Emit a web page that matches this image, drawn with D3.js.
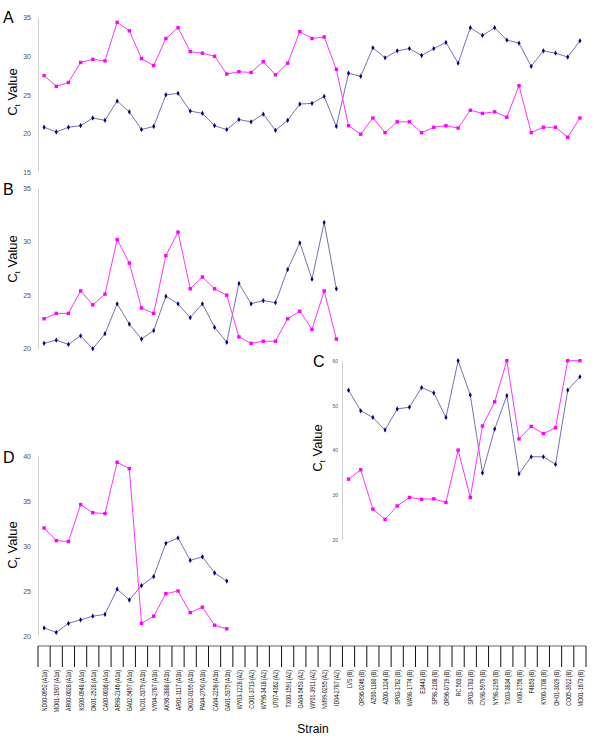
<!DOCTYPE html>
<html>
<head>
<meta charset="utf-8">
<script src="https://cdn.jsdelivr.net/npm/d3@7"></script>
<style>
body { margin: 0; background: #fff; }
svg { font-family: Arial, "Liberation Sans", sans-serif; }
</style>
</head>
<body>
<svg id="chart" width="600" height="742"></svg>
<script>
// strains, in the order of the shared x axis
var strains = [
  'ND00-0952 (A1a)', 'MO01-1907 (A1a)', 'AR00-0028 (A1a)', 'KS00-0948 (A1a)', 'OK01-2528 (A1a)',
  'CA00-0036 (A1a)', 'AR98-2146 (A1a)', 'GA02-5497 (A1a)', 'NC01-5379 (A1b)', 'NY04-2787 (A1b)',
  'AK96-2888 (A1b)', 'AR01-1117 (A1b)', 'OK02-0195 (A1b)', 'PA04-2790 (A1b)', 'CA04-2258 (A1b)',
  'GA01-5375 (A1b)', 'WY03-1228 (A2)', 'CO01-3713 (A2)', 'WY96-3418 (A2)', 'UT07-4362 (A2)',
  'TX00-1591 (A2)', 'GA04-5453 (A2)', 'WY01-3911 (A2)', 'NM99-0295 (A2)', 'ID04-2787 (A2)',
  'LVS (B)', 'OR96-0246 (B)', 'AZ00-1180 (B)', 'AZ00-1324 (B)', 'SP03-1782 (B)',
  'WA98-1774 (B)', 'E3443 (B)', 'SP98-2108 (B)', 'OR96-0719 (B)', 'RC 503 (B)',
  'SP03-1783 (B)', 'CN98-5979 (B)', 'NY98-2295 (B)', 'TX03-3834 (B)', 'IN00-2756 (B)',
  'F4853 (B)', 'KY00-1708 (B)', 'OH01-3029 (B)', 'CO05-3922 (B)', 'MO01-1673 (B)'
];

// panel A - all strains
var aNavy = [20.8, 20.2, 20.8, 21.0, 22.0, 21.7, 24.2, 22.8, 20.5, 20.9,
             25.0, 25.2, 22.9, 22.6, 21.0, 20.5, 21.8, 21.5, 22.5, 20.4,
             21.7, 23.8, 23.9, 24.8, 20.9, 27.8, 27.4, 31.1, 29.8, 30.7,
             31.0, 30.1, 31.0, 31.8, 29.1, 33.7, 32.7, 33.7, 32.1, 31.7,
             28.7, 30.7, 30.4, 29.9, 32.0];
var aPink = [27.5, 26.1, 26.6, 29.2, 29.6, 29.4, 34.4, 33.3, 29.7, 28.8,
             32.3, 33.7, 30.6, 30.4, 30.0, 27.7, 28.0, 27.9, 29.3, 27.6,
             29.1, 33.2, 32.3, 32.5, 28.3, 21.0, 19.9, 22.0, 20.1, 21.5,
             21.5, 20.1, 20.8, 21.0, 20.7, 23.0, 22.6, 22.8, 22.1, 26.2,
             20.1, 20.8, 20.8, 19.5, 22.0];

// panel B - A1a, A1b and A2 strains
var bNavy = [20.5, 20.8, 20.4, 21.2, 20.0, 21.4, 24.2, 22.3, 20.9, 21.7,
             24.9, 24.2, 22.9, 24.2, 22.0, 20.6, 26.1, 24.2, 24.5, 24.3,
             27.4, 29.9, 26.5, 31.8, 25.6];
var bPink = [22.8, 23.3, 23.3, 25.4, 24.1, 25.1, 30.2, 28.0, 23.8, 23.3,
             28.7, 30.9, 25.6, 26.7, 25.6, 25.0, 21.1, 20.5, 20.7, 20.7,
             22.8, 23.5, 21.8, 25.4, 20.9];

// panel C - B strains
var cNavy = [53.4, 48.8, 47.3, 44.5, 49.2, 49.6, 54.0, 52.8, 47.3, 60.0,
             52.3, 34.9, 44.7, 52.2, 34.7, 38.5, 38.5, 36.8, 53.4, 56.4];
var cPink = [33.5, 35.6, 26.8, 24.5, 27.5, 29.4, 29.0, 29.1, 28.3, 40.0,
             29.4, 45.4, 50.8, 60.0, 42.5, 45.3, 43.7, 45.0, 60.0, 60.0];

// panel D - A1a and A1b strains
var dNavy = [20.9, 20.4, 21.4, 21.8, 22.2, 22.4, 25.2, 24.0, 25.6, 26.6,
             30.3, 30.9, 28.4, 28.8, 27.0, 26.1];
var dPink = [32.0, 30.6, 30.5, 34.6, 33.7, 33.6, 39.3, 38.6, 21.4, 22.2,
             24.7, 25.0, 22.6, 23.2, 21.2, 20.8];

var svg = d3.select('#chart');

var x = d3.scaleBand().domain(strains).range([38, 586]);
var cx = function(name) { return x(name) + x.bandwidth() / 2 };

var panels = [
  {name: 'A', navy: aNavy, pink: aPink, first: 0, domain: [15, 35], ticks: [15, 20, 25, 30, 35],
   top: 17.7, bottom: 172, axisX: 38, letterX: 3, letterY: 23, titleX: 16.5, titleY: 92, tickFont: 7},
  {name: 'B', navy: bNavy, pink: bPink, first: 0, domain: [20, 35], ticks: [20, 25, 30, 35],
   top: 188.2, bottom: 348.7, axisX: 38, letterX: 3, letterY: 195, titleX: 16.5, titleY: 259, tickFont: 7},
  {name: 'C', navy: cNavy, pink: cPink, first: 25, domain: [20, 60], ticks: [20, 30, 40, 50, 60],
   top: 360.7, bottom: 539.5, axisX: 342, letterX: 313, letterY: 367, titleX: 322, titleY: 448, tickFont: 5},
  {name: 'D', navy: dNavy, pink: dPink, first: 0, domain: [20, 40], ticks: [20, 25, 30, 35, 40],
   top: 456, bottom: 636, axisX: 38, letterX: 3, letterY: 463, titleX: 16.5, titleY: 545, tickFont: 7}
];

panels.forEach(drawPanel);
drawStrainAxis();

function drawPanel(p) {
  var y = d3.scaleLinear().domain(p.domain).range([p.bottom, p.top]);
  var g = svg.append('g').attr('class', 'panel-' + p.name);

  // y axis
  var axis = g.append('g')
    .attr('transform', 'translate(' + p.axisX + ',0)')
    .call(d3.axisLeft(y).tickValues(p.ticks).tickSize(0).tickSizeOuter(0).tickPadding(p.tickFont > 6 ? 7 : 4));
  axis.select('.domain').attr('stroke', '#cfcfcf');
  axis.selectAll('text')
    .attr('fill', '#555')
    .style('font-size', p.tickFont + 'px');

  // panel letter
  g.append('text')
    .attr('x', p.letterX)
    .attr('y', p.letterY)
    .style('font-size', '16px')
    .text(p.name);

  // Ct Value title
  var title = g.append('text')
    .attr('transform', 'translate(' + p.titleX + ',' + p.titleY + ') rotate(-90)')
    .attr('text-anchor', 'middle')
    .style('font-size', '13px');
  title.append('tspan').text('C');
  title.append('tspan').attr('dy', 3).style('font-size', '8px').text('t');
  title.append('tspan').attr('dy', -3).text(' Value');

  var names = strains.slice(p.first, p.first + p.navy.length);
  var line = d3.line()
    .x(function(d, i) { return cx(names[i]) })
    .y(function(d) { return y(d) });

  // navy series
  g.append('path')
    .datum(p.navy)
    .attr('d', line)
    .attr('fill', 'none')
    .attr('stroke', '#3a3a96')
    .attr('stroke-opacity', 0.8)
    .attr('stroke-width', 0.9);
  g.selectAll('.navy-pt')
    .data(p.navy)
    .enter().append('path')
    .attr('class', 'navy-pt')
    .attr('transform', function(d, i) { return 'translate(' + cx(names[i]) + ',' + y(d) + ')' })
    .attr('d', d3.symbol(d3.symbolDiamond).size(8))
    .attr('fill', '#000080');

  // magenta series
  g.append('path')
    .datum(p.pink)
    .attr('d', line)
    .attr('fill', 'none')
    .attr('stroke', '#ff33ff')
    .attr('stroke-width', 1);
  g.selectAll('.pink-pt')
    .data(p.pink)
    .enter().append('rect')
    .attr('class', 'pink-pt')
    .attr('x', function(d, i) { return cx(names[i]) - 1.7 })
    .attr('y', function(d) { return y(d) - 1.7 })
    .attr('width', 3.4)
    .attr('height', 3.4)
    .attr('fill', '#ff00ff');
}

function drawStrainAxis() {
  var g = svg.append('g').attr('class', 'strain-axis');
  var axisY = 646;

  g.append('line')
    .attr('x1', x.range()[0]).attr('x2', x.range()[1])
    .attr('y1', axisY).attr('y2', axisY)
    .attr('stroke', '#666');

  // separators between strains
  var bounds = strains.map(function(s) { return x(s) }).concat([x.range()[1]]);
  g.selectAll('.sep')
    .data(bounds)
    .enter().append('line')
    .attr('class', 'sep')
    .attr('x1', function(d) { return d }).attr('x2', function(d) { return d })
    .attr('y1', axisY).attr('y2', axisY + 21)
    .attr('stroke', '#111');

  g.selectAll('.strain')
    .data(strains)
    .enter().append('text')
    .attr('class', 'strain')
    .attr('transform', function(d) {
      return 'translate(' + (cx(d) + 3) + ',' + (axisY + 24) + ') rotate(-90) scale(0.66,1)'
    })
    .attr('text-anchor', 'end')
    .attr('fill', '#111')
    .style('font-size', '8px')
    .text(function(d) { return d });

  g.append('text')
    .attr('x', 313)
    .attr('y', 733)
    .attr('text-anchor', 'middle')
    .style('font-size', '12px')
    .text('Strain');
}
</script>
</body>
</html>
